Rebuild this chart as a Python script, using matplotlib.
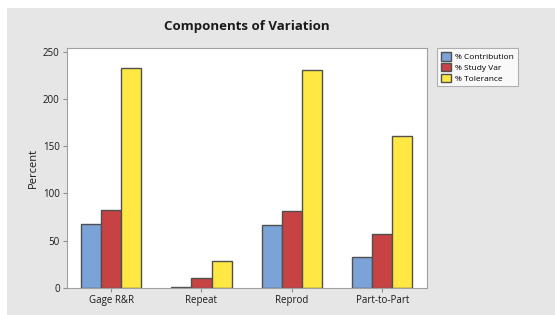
import matplotlib
matplotlib.use("Agg")
import matplotlib.pyplot as plt
import numpy as np
from matplotlib.patches import Rectangle

# Minitab gage R&R components of variation
categories = ["Gage R&R", "Repeat", "Reprod", "Part-to-Part"]
series = ["% Contribution", "% Study Var", "% Tolerance"]
contribution = [67.8, 1.0, 66.8, 32.2]
study_var = [82.3, 10.0, 81.7, 56.7]
tolerance = [233.0, 28.3, 231.2, 160.5]
yticks = [0, 50, 100, 150, 200, 250]

colors = ["#7BA3D7", "#C64243", "#FFE843"]

plt.rcParams["font.family"] = ["Open Sans", "DejaVu Sans"]

fig = plt.figure(figsize=(5.55, 3.15), dpi=100)
fig.patch.set_facecolor("white")
# grey panel behind the chart
fig.patches.append(Rectangle((7 / 555, 0), 1, 307 / 315, transform=fig.transFigure,
                             facecolor="#E6E6E6", edgecolor="none", zorder=-1))

ax = fig.add_axes([0.1202, 0.0867, 0.6486, 0.76])
ax.set_facecolor("white")

x = np.arange(len(categories))
width = 0.222
for i, (vals, name) in enumerate(zip([contribution, study_var, tolerance], series)):
    ax.bar(x + (i - 1) * width, vals, width, color=colors[i], edgecolor="#505050",
           linewidth=1.0, label=name, zorder=2)

ax.set_xlim(-0.49, 3.49)
ax.set_ylim(0, 254)
ax.set_xticks(x)
ax.set_xticklabels(categories, fontsize=7, color="#1a1a1a")
ax.set_yticks(yticks)
ax.set_yticklabels([str(t) for t in yticks], fontsize=7, color="#1a1a1a")
ax.tick_params(axis="both", direction="out", length=3, color="#909090", pad=2)
for s in ax.spines.values():
    s.set_color("#A0A0A0")
    s.set_linewidth(0.8)

ax.set_ylabel("Percent", fontsize=8, color="#1a1a1a", labelpad=3)
ax.set_title("Components of Variation", fontsize=9.5, fontweight="bold",
             color="#1a1a1a", pad=13)

leg = ax.legend(loc="upper left", bbox_to_anchor=(1.03, 1.0), fontsize=6,
                frameon=True, fancybox=False, edgecolor="#A0A0A0",
                handlelength=1.2, handleheight=1.2, handletextpad=0.5,
                labelspacing=0.2, borderpad=0.45, borderaxespad=0)
leg.get_frame().set_linewidth(0.8)

fig.savefig("out.png", dpi=100)
